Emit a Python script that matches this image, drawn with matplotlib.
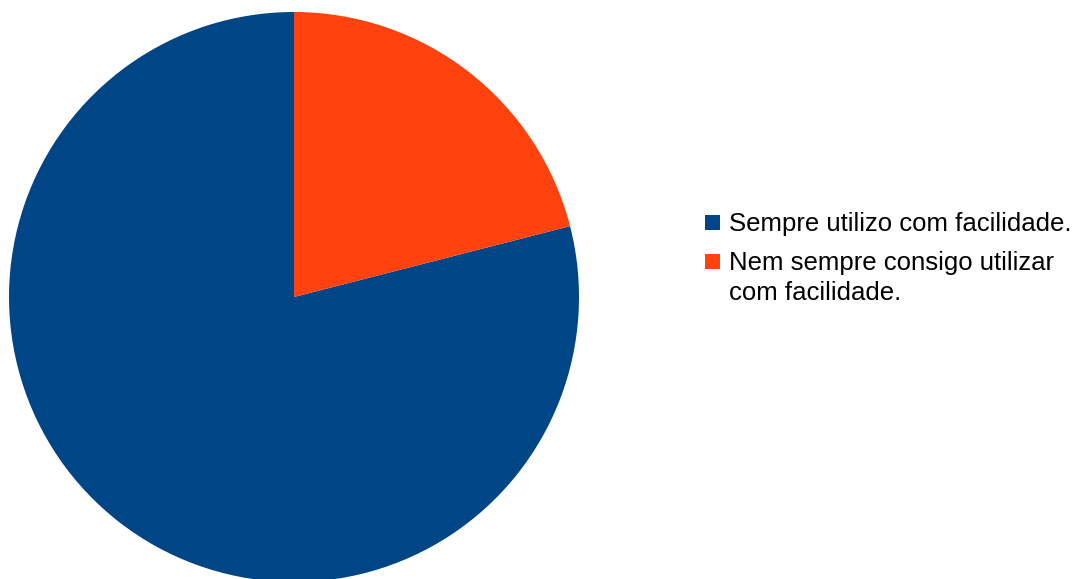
import matplotlib
matplotlib.use("Agg")
import matplotlib.pyplot as plt
from matplotlib.patches import Rectangle

labels = ["Sempre utilizo com facilidade.",
          "Nem sempre consigo utilizar\ncom facilidade."]
values = [79, 21]
colors = ["#004586", "#ff420e"]

plt.rcParams["font.family"] = ["Liberation Sans", "DejaVu Sans"]

W, H = 1080, 579
fig = plt.figure(figsize=(W / 100, H / 100), dpi=100)

# pie axes: centre (294, 297) px, radius 285 px
cx, cy, r = 294, 297, 285
ax = fig.add_axes([(cx - r) / W, (H - cy - r) / H, 2 * r / W, 2 * r / H])
ax.pie(values, colors=colors, startangle=90, counterclock=True, radius=1.0,
       wedgeprops=dict(linewidth=0))
ax.set_xlim(-1, 1)
ax.set_ylim(-1, 1)
ax.set_aspect("auto")
ax.axis("off")

# legend drawn by hand so the square sits on the first line of a wrapped label
sq = 15
first_base = [231, 270]   # baseline of each entry's first line, px from top
for label, color, base in zip(labels, colors, first_base):
    mid = base - 9
    fig.add_artist(Rectangle((705 / W, (H - mid - sq / 2) / H), sq / W, sq / H,
                             transform=fig.transFigure, facecolor=color,
                             edgecolor="none"))
    # matplotlib puts a multi-line "baseline" text on its last line
    last = base + 30 * label.count("\n")
    fig.text(729 / W, (H - last) / H, label, fontsize=18.5, va="baseline",
             ha="left", linespacing=1.3, color="#000000")

fig.savefig("out.png", dpi=100)
